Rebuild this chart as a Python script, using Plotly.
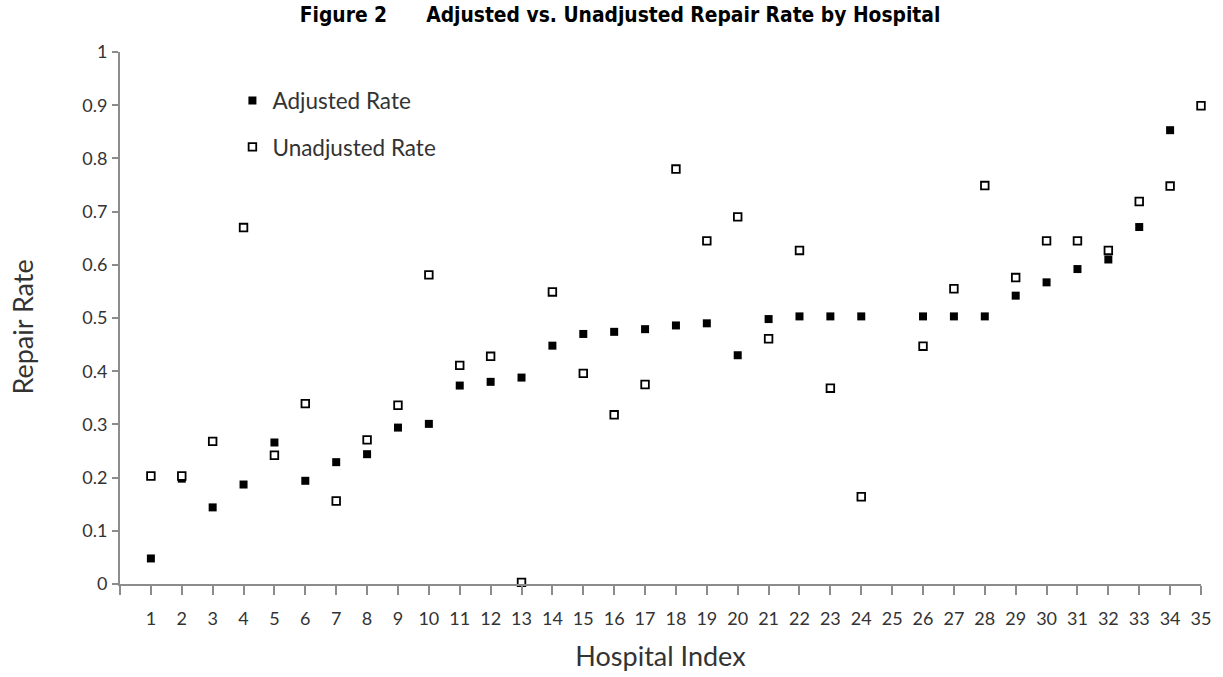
import plotly.graph_objects as go

hospital_index = list(range(1, 36))
adjusted_rate = [0.048, 0.198, 0.144, 0.187, 0.266, 0.194, 0.229, 0.244, 0.294, 0.301,
                 0.373, 0.380, 0.388, 0.448, 0.470, 0.474, 0.479, 0.486, 0.490, 0.430,
                 0.498, 0.503, 0.503, 0.503, None, 0.503, 0.503, 0.503, 0.542, 0.567,
                 0.592, 0.610, 0.671, 0.853, None]
unadjusted_rate = [0.203, 0.203, 0.268, 0.670, 0.242, 0.339, 0.156, 0.271, 0.336, 0.581,
                   0.411, 0.428, 0.003, 0.549, 0.396, 0.318, 0.375, 0.780, 0.645, 0.690,
                   0.461, 0.627, 0.368, 0.164, None, 0.447, 0.555, 0.749, 0.576, 0.645,
                   0.645, 0.627, 0.719, 0.748, 0.899]
x_tick_vals = list(range(0, 36))
x_tick_text = [""] + [str(i) for i in range(1, 36)]
y_tick_vals = [0, 0.1, 0.2, 0.3, 0.4, 0.5, 0.6, 0.7, 0.8, 0.9, 1]
y_tick_text = ["0", "0.1", "0.2", "0.3", "0.4", "0.5", "0.6", "0.7", "0.8", "0.9", "1"]

FONT = "Lato, Open Sans, sans-serif"
tick_font = dict(family=FONT, size=18, color="#333333")
legend_font = dict(family=FONT, size=22.5, color="#333333")
title_font = dict(family=FONT, size=27, color="#333333")

fig = go.Figure()
fig.add_trace(go.Scatter(
    x=hospital_index, y=adjusted_rate, mode="markers", name="Adjusted Rate",
    marker=dict(symbol="square", size=8, color="black", line=dict(width=0)),
    legend="legend", showlegend=True, cliponaxis=False,
))
fig.add_trace(go.Scatter(
    x=hospital_index, y=unadjusted_rate, mode="markers", name="Unadjusted Rate",
    marker=dict(symbol="square", size=7.6, color="white", line=dict(width=1.8, color="black")),
    legend="legend2", showlegend=True, cliponaxis=False,
))

fig.update_layout(
    width=1223, height=677,
    showlegend=True,
    margin=dict(l=120, r=22, t=52, b=93),
    paper_bgcolor="white", plot_bgcolor="white",
    title=dict(
        text="Figure 2\u00a0\u00a0\u00a0\u00a0\u00a0\u00a0Adjusted vs. Unadjusted Repair Rate by Hospital",
        x=0.507, xanchor="center", y=0.978, yanchor="middle", pad=dict(t=0, b=0),
        font=dict(family="DejaVu Sans Condensed, DejaVu Sans, sans-serif", size=20.8,
                  color="black", weight="bold"),
    ),
    legend=dict(x=0.104, y=0.908, xanchor="left", yanchor="middle",
                bgcolor="rgba(0,0,0,0)", font=legend_font, itemwidth=30),
    legend2=dict(x=0.104, y=0.821, xanchor="left", yanchor="middle",
                 bgcolor="rgba(0,0,0,0)", font=legend_font, itemwidth=30),
    xaxis=dict(
        range=[0, 35], tickmode="array", tickvals=x_tick_vals, ticktext=x_tick_text,
        showgrid=False, zeroline=False, showline=True, linecolor="#8c8c8c", linewidth=2,
        ticks="outside", ticklen=9, tickcolor="#8c8c8c", tickwidth=1.5,
        tickfont=tick_font, ticklabelstandoff=8, automargin=False,
        title=dict(text="Hospital Index", font=title_font, standoff=20),
    ),
    yaxis=dict(
        range=[0, 1], tickmode="array", tickvals=y_tick_vals, ticktext=y_tick_text,
        showgrid=False, zeroline=False, showline=True, linecolor="#8c8c8c", linewidth=2,
        ticks="outside", ticklen=6, tickcolor="#8c8c8c", tickwidth=1.5,
        tickfont=tick_font, ticklabelstandoff=1, automargin=False,
    ),
    annotations=[dict(
        text="Repair Rate", textangle=-90, xref="paper", yref="paper",
        x=-0.0897, y=0.482, xanchor="center", yanchor="middle", showarrow=False,
        font=title_font,
    )],
)

# remove the browser's default 8px body margin so the figure fills the window exactly
fig.write_html("out.html", config={"displayModeBar": False},
               post_script="document.body.style.margin='0';")
